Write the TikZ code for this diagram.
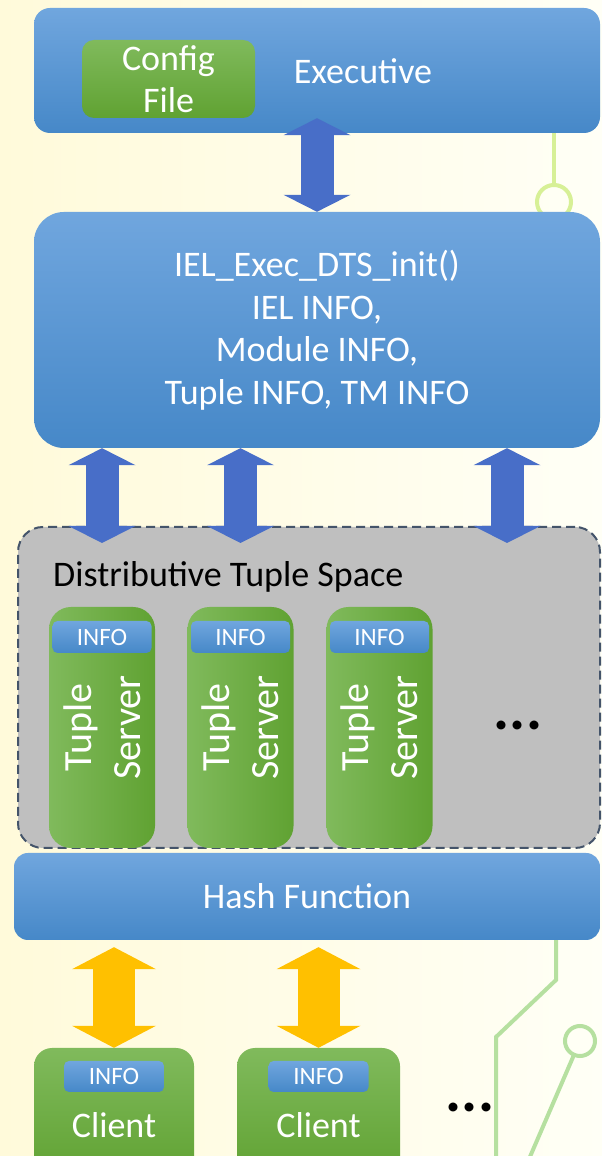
\documentclass[tikz,border=0pt]{standalone}
\usepackage{fontspec}
\setmainfont{Carlito}
\usetikzlibrary{arrows.meta,positioning}

\definecolor{bgleft}{RGB}{255,250,218}
\definecolor{bgright}{RGB}{255,255,246}
\definecolor{boxtop}{RGB}{112,166,222}
\definecolor{boxbot}{RGB}{70,136,200}
\definecolor{greenlight}{RGB}{128,186,92}
\definecolor{greendark}{RGB}{96,162,50}
\definecolor{arrowblue}{RGB}{72,110,200}
\definecolor{arrowgold}{RGB}{255,192,0}
\definecolor{dtsgray}{RGB}{191,191,191}
\definecolor{dtsline}{RGB}{68,84,106}
\definecolor{wirelime}{RGB}{215,240,150}
\definecolor{wiregreen}{RGB}{182,224,160}

\newcommand{\boxfont}{\fontsize{36}{42.5}\selectfont}
\newcommand{\serverfont}{\fontsize{40}{49}\selectfont}
\newcommand{\infofont}{\fontsize{25}{30}\selectfont}
\newcommand{\dotsfont}{\fontsize{60}{60}\selectfont\bfseries}

\tikzset{
  bluebox/.style={top color=boxtop, bottom color=boxbot, text=white,
    align=center, inner sep=0pt, font=\boxfont},
  greenbox/.style={top color=greenlight, bottom color=greendark, text=white,
    align=center, inner sep=0pt, rounded corners=18pt, font=\boxfont},
  serverbox/.style={left color=greenlight, right color=greendark,
    rounded corners=22pt, minimum width=106pt, minimum height=241pt},
  infobox/.style={top color=boxtop, bottom color=boxbot, text=white,
    rounded corners=5pt, inner sep=0pt, font=\infofont},
  dtsbox/.style={fill=dtsgray, draw=dtsline, line width=2pt,
    dash pattern=on 9pt off 5pt, rounded corners=25pt},
  whitetext/.style={text=white, align=center, inner sep=0pt, font=\boxfont},
  wire/.style={line width=4pt},
  bluearrow/.style={draw=arrowblue, line width=33pt,
    arrows={Triangle[length=17pt,width=67pt,line width=0pt]-Triangle[length=17pt,width=67pt,line width=0pt]}},
  goldarrow/.style={draw=arrowgold, line width=42pt,
    arrows={Triangle[length=22pt,width=84pt,line width=0pt]-Triangle[length=22pt,width=84pt,line width=0pt]}}
}

\begin{document}
\begin{tikzpicture}[x=1pt,y=1pt]
  \useasboundingbox (0,0) rectangle (602,1156);
  \clip (0,0) rectangle (602,1156);
  \shade[left color=bgleft, right color=bgright] (0,0) rectangle (602,1156);

  % wires behind the boxes
  \draw[wire, wirelime] (554,1023) -- (554,971);
  \draw[wire, wirelime] (554,954) circle (17);
  \draw[wire, wiregreen] (556,216) -- (556,176) -- (496,119) -- (496,-10);
  \draw[wire, wiregreen] (580,115) circle (15);
  \draw[wire, wiregreen] (580,115) ++(246.5:15) -- (526,-10);

  % Executive
  \node[bluebox, rounded corners=16pt, minimum width=566pt, minimum height=125pt] (exec) at (317,1085.5) {};
  \node[greenbox, rounded corners=12pt, minimum width=173pt, minimum height=78pt] (config) at (168.5,1077) {Config\\File};
  \node[whitetext] (exectxt) at (363,1085) {Executive};

  % IEL init
  \node[bluebox, rounded corners=30pt, minimum width=566pt, minimum height=236pt] (iel) at (317,826)
    {IEL\_Exec\_DTS\_init()\\IEL INFO,\\Module INFO,\\Tuple INFO, TM INFO};

  % Distributive Tuple Space
  \node[dtsbox, minimum width=582pt, minimum height=321pt] (dts) at (309,468.5) {};
  \node[anchor=west, inner sep=0pt, font=\boxfont] (dtslabel) at (53,579) {Distributive Tuple Space};

  % tuple servers
  \foreach \i/\x in {1/102,2/240.5,3/379.5}{
    \node[serverbox] (s\i) at (\x,428.5) {};
    \node[infobox, minimum width=99pt, minimum height=32pt, below=14pt of s\i.north] (si\i) {INFO};
    \node[whitetext, rotate=90, font=\serverfont] (st\i) at (s\i.center) {Tuple\\Server};
  }
  \node[inner sep=0pt, font=\dotsfont] (more1) at (518,431) {...};

  % Hash Function
  \node[bluebox, rounded corners=14pt, minimum width=586pt, minimum height=87pt] (hash) at (307,259.5) {Hash Function};

  % clients
  \foreach \i/\x/\w in {1/114/160,2/318.5/163}{
    \node[greenbox, minimum width=\w pt, minimum height=130pt] (c\i) at (\x,43) {};
    \node[infobox, minimum width=100pt, minimum height=31pt, below=13pt of c\i.north] (ci\i) {INFO};
    \node[whitetext] (ct\i) at ([yshift=-77pt]c\i.north) {Client};
  }
  \node[inner sep=0pt, font=\dotsfont] (more2) at (470,49) {...};

  % arrows
  \draw[bluearrow] ([yshift=15pt]exec.south) -- (iel.north);
  \coordinate (dtsright) at (507,0);
  \foreach \n in {s1,s2,dtsright}
    \draw[bluearrow] (iel.south -| \n) -- ([yshift=-17pt]dts.north -| \n);
  \foreach \n in {c1,c2}
    \draw[goldarrow] ([yshift=-7pt]hash.south -| \n) -- (\n.north);
\end{tikzpicture}
\end{document}
